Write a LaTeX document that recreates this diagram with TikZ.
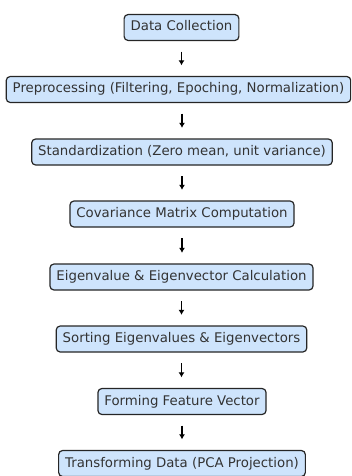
\documentclass[tikz,border=0pt]{standalone}
\usepackage{fontspec}
\setmainfont{DejaVu Sans}
\usetikzlibrary{arrows.meta}
\definecolor{cajaazul}{RGB}{206,228,252}

\begin{document}
\begin{tikzpicture}[x=1pt,y=-1pt,line width=1.2pt,
  paso/.style={draw=black!85,fill=cajaazul,rounded corners=4pt,
    inner xsep=6.5pt,inner ysep=6.5pt,text height=10pt,text depth=3pt,
    text=black!80,font=\fontsize{13.3}{15}\selectfont},
  flecha/.style={-{Latex[length=5pt,width=6pt]},line width=1.3pt,
    shorten <=10.5pt,shorten >=10.5pt}]
  \useasboundingbox[clip] (0,0) rectangle (351,476);
  % pasos del PCA
  \node[paso] (datos) at (181.5,27.5) {Data Collection};
  \node[paso] (prepro) at (178.5,89.5) {Preprocessing (Filtering, Epoching, Normalization)};
  \node[paso] (estand) at (182,152) {Standardization (Zero mean, unit variance)};
  \node[paso] (cov) at (182,214) {Covariance Matrix Computation};
  \node[paso] (eigen) at (181.5,277) {Eigenvalue \& Eigenvector Calculation};
  \node[paso] (orden) at (181.5,339) {Sorting Eigenvalues \& Eigenvectors};
  \node[paso] (vector) at (182,401.5) {Forming Feature Vector};
  \node[paso] (proy) at (182,463.5) {Transforming Data (PCA Projection)};
  % flechas entre pasos
  \draw[flecha] (datos.south) -- (datos.south |- prepro.north);
  \draw[flecha] (prepro.south -| estand.north) -- (estand.north);
  \draw[flecha] (estand.south) -- (estand.south |- cov.north);
  \draw[flecha] (cov.south) -- (cov.south |- eigen.north);
  \draw[flecha] (eigen.south) -- (eigen.south |- orden.north);
  \draw[flecha] (orden.south) -- (orden.south |- vector.north);
  \draw[flecha] (vector.south) -- (vector.south |- proy.north);
\end{tikzpicture}
\end{document}
